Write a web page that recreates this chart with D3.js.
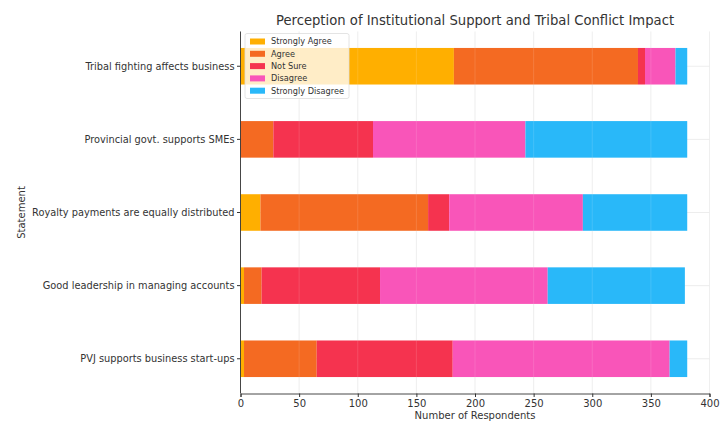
<!DOCTYPE html>
<html><head><meta charset="utf-8">
<script src="https://cdn.jsdelivr.net/npm/d3@7"></script>
<style>body{margin:0;background:#fff}svg{display:block}text{font-family:"DejaVu Sans",sans-serif}</style>
</head><body><svg id="c" width="725" height="423"></svg>
<script>
const statements = ["Tribal fighting affects business","Provincial govt. supports SMEs","Royalty payments are equally distributed","Good leadership in managing accounts","PVJ supports business start-ups"];
const responses = ["Strongly Agree","Agree","Not Sure","Disagree","Strongly Disagree"];
const stronglyAgree = [182, 0, 17, 3, 3];
const agree = [157, 28, 143, 15, 62];
const notSure = [6, 85, 18, 101, 116];
const disagree = [26, 130, 114, 143, 185];
const stronglyDisagree = [10, 138, 89, 117, 15];
const xTicks = [0,50,100,150,200,250,300,350,400];
const colors = ["#FFAF00","#F46A22","#F5334F","#F955B9","#29B8F9"];

const series = [stronglyAgree, agree, notSure, disagree, stronglyDisagree];
const rows = statements.map((s,i)=>{const o={statement:s}; responses.forEach((r,j)=>o[r]=series[j][i]); return o;});
const stack = d3.stack().keys(responses)(rows);

const svg = d3.select("#c");
const m = {l:240.5, r:709.5, t:31.5, b:393.5};
const x = d3.scaleLinear().domain([0,400]).range([m.l,m.r]);
const yc = d3.scaleLinear().domain([-0.475, 4.475]).range([m.t, m.b]);
const bh = yc(0.5)-yc(0);

const g = svg.append("g");
g.selectAll(".vg").data(xTicks).join("line").attr("x1",d=>x(d)).attr("x2",d=>x(d)).attr("y1",m.t).attr("y2",m.b).attr("stroke","#e8e8e8").attr("stroke-width",0.8);
g.selectAll(".hg").data(statements).join("line").attr("x1",m.l).attr("x2",m.r).attr("y1",(d,i)=>yc(i)).attr("y2",(d,i)=>yc(i)).attr("stroke","#e8e8e8").attr("stroke-width",0.8);

svg.append("g").selectAll("g").data(stack).join("g").attr("fill",(d,i)=>colors[i])
  .selectAll("rect").data(d=>d).join("rect")
  .attr("x",d=>x(d[0])).attr("width",d=>x(d[1])-x(d[0]))
  .attr("y",(d,i)=>yc(i)-bh/2).attr("height",bh);

const g2 = svg.append("g").attr("opacity",0.12);
g2.selectAll("line").data(xTicks.slice(1)).join("line").attr("x1",d=>x(d)).attr("x2",d=>x(d)).attr("y1",m.t).attr("y2",m.b).attr("stroke","#fff");

const xa = svg.append("g").attr("transform",`translate(0,${m.b})`).call(d3.axisBottom(x).tickValues(xTicks).tickSize(3.5).tickPadding(3));
xa.select(".domain").attr("stroke","#333").attr("stroke-width",0.9);
xa.selectAll(".tick line").attr("stroke","#333");
xa.selectAll("text").attr("font-size",10).attr("fill","#333");

const ya = svg.append("g").attr("transform",`translate(${m.l},0)`);
ya.append("line").attr("x1",0).attr("x2",0).attr("y1",m.t).attr("y2",m.b).attr("stroke","#333").attr("stroke-width",0.9);
statements.forEach((s,i)=>{
  ya.append("line").attr("x1",-3.5).attr("x2",0).attr("y1",yc(i)).attr("y2",yc(i)).attr("stroke","#333");
  ya.append("text").attr("x",-6).attr("y",yc(i)).attr("dy","0.35em").attr("text-anchor","end").attr("font-size",9.8).attr("fill","#333").text(s);
});

svg.append("text").attr("x",(m.l+m.r)/2).attr("y",25).attr("text-anchor","middle").attr("font-size",13.2).attr("fill","#333").text("Perception of Institutional Support and Tribal Conflict Impact");
svg.append("text").attr("x",(m.l+m.r)/2).attr("y",419).attr("text-anchor","middle").attr("font-size",10).attr("fill","#333").text("Number of Respondents");
svg.append("text").attr("transform",`translate(25,${(m.t+m.b)/2}) rotate(-90)`).attr("text-anchor","middle").attr("font-size",10).attr("fill","#333").text("Statement");

const lg = svg.append("g").attr("transform","translate(245,33.5)");
lg.append("rect").attr("width",104).attr("height",65).attr("rx",2).attr("fill","#fff").attr("fill-opacity",0.78).attr("stroke","#ddd").attr("stroke-width",0.8);
responses.forEach((r,i)=>{
  const yy = 8 + i*12.3;
  lg.append("rect").attr("x",5).attr("y",yy-3).attr("width",15).attr("height",6).attr("fill",colors[i]);
  lg.append("text").attr("x",26).attr("y",yy).attr("dy","0.35em").attr("font-size",8.2).attr("fill","#333").text(r);
});
</script></body></html>
